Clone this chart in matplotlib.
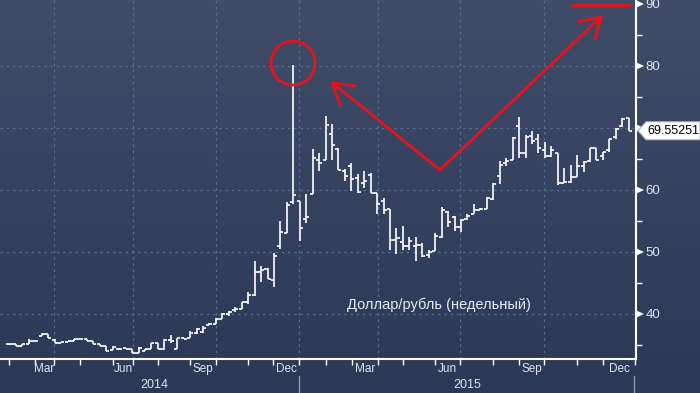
import matplotlib
matplotlib.use("Agg")
import matplotlib.pyplot as plt
import numpy as np
from matplotlib.collections import LineCollection
from matplotlib.lines import Line2D
from matplotlib.patches import Ellipse, Polygon

plt.rcParams["font.family"] = ["Liberation Sans", "DejaVu Sans"]

# weekly USD/RUB bars, Feb 2014 .. Dec 2015
opens = [35.1, 35.1, 34.8, 35.1, 35.7, 36.5, 36.7, 35.8, 35.3, 35.5,
         35.7, 35.9, 35.9, 35.6, 35.1, 34.8, 34.2, 34.35, 34.5, 34.35,
         33.75, 34.1, 34.35, 35.3, 34.3, 35.8, 34.4, 36.1, 36.2, 36.9,
         37.1, 38.3, 38.4, 39.2, 40.0, 40.65, 40.8, 41.9, 43.1, 46.7,
         47.2, 45.5, 50.9, 53.0, 58.0, 58.2, 55.3, 59.4, 64.8, 64.8,
         69.0, 66.6, 63.0, 63.9, 61.9, 61.2, 62.4, 59.5, 58.2, 56.9,
         51.9, 51.6, 50.9, 51.0, 51.1, 49.5, 50.1, 52.5, 56.5, 55.7,
         54.0, 55.3, 56.2, 56.8, 57.0, 58.5, 62.3, 64.4, 64.8, 70.3,
         66.0, 68.7, 68.2, 66.4, 65.5, 65.9, 61.2, 61.3, 62.1, 63.8,
         64.6, 66.8, 65.5, 66.4, 68.5, 70.3, 71.6]
highs = [35.2, 35.1, 35.1, 36.0, 35.7, 37.0, 36.7, 36.0, 35.5, 35.6,
         35.9, 36.0, 35.9, 35.6, 35.1, 34.8, 34.9, 34.5, 34.5, 34.35,
         34.6, 34.35, 35.4, 35.4, 35.9, 36.6, 36.2, 36.1, 37.2, 37.8,
         38.0, 38.5, 39.3, 40.1, 40.5, 41.1, 42.0, 43.6, 48.6, 47.7,
         47.5, 49.8, 55.0, 58.0, 80.2, 58.2, 59.4, 66.6, 66.0, 71.9,
         70.6, 66.7, 63.4, 64.4, 62.6, 63.0, 62.8, 59.5, 58.7, 57.0,
         53.8, 54.2, 52.5, 52.4, 51.4, 50.3, 53.1, 57.2, 56.6, 55.8,
         55.3, 56.1, 57.7, 57.1, 58.8, 61.1, 64.6, 65.2, 68.5, 71.7,
         68.8, 69.5, 69.1, 67.7, 67.1, 65.9, 63.5, 64.1, 65.6, 64.6,
         66.8, 66.8, 66.2, 68.3, 70.0, 71.6, 71.6]
lows = [35.0, 34.8, 34.8, 35.1, 35.6, 36.5, 36.2, 35.4, 35.3, 35.5,
        35.7, 35.9, 35.6, 35.1, 34.8, 34.1, 34.2, 34.3, 34.35, 33.7,
        33.7, 34.1, 34.35, 34.3, 34.2, 35.3, 34.35, 35.9, 36.1, 36.8,
        37.0, 38.2, 38.4, 39.2, 39.6, 40.4, 40.8, 41.6, 42.95, 45.1,
        45.6, 44.4, 50.5, 53.0, 57.8, 51.7, 54.6, 59.4, 63.1, 64.8,
        64.8, 63.3, 61.5, 59.9, 59.5, 60.3, 59.5, 56.2, 56.2, 50.4,
        49.7, 50.3, 50.3, 48.5, 49.2, 49.1, 50.1, 52.2, 54.0, 53.4,
        53.3, 55.2, 56.2, 56.7, 56.9, 58.4, 61.0, 63.8, 64.8, 65.1,
        65.1, 67.5, 65.9, 65.2, 65.4, 60.8, 61.2, 61.2, 62.1, 62.95,
        64.5, 64.8, 64.9, 66.2, 68.3, 70.2, 69.5]
closes = [35.1, 34.8, 35.1, 35.7, 35.6, 36.7, 36.2, 35.4, 35.5, 35.6,
          35.9, 35.9, 35.6, 35.1, 34.8, 34.1, 34.7, 34.35, 34.35, 33.75,
          34.5, 34.35, 35.3, 34.4, 35.8, 35.6, 36.1, 35.9, 37.0, 37.6,
          37.8, 38.4, 39.2, 40.0, 40.4, 40.8, 41.9, 43.1, 46.7, 47.1,
          45.7, 49.4, 53.2, 57.6, 59.2, 53.8, 55.6, 65.1, 64.3, 70.5,
          67.3, 63.3, 62.2, 61.7, 59.7, 61.4, 59.5, 57.8, 56.8, 51.9,
          52.2, 50.9, 51.8, 51.1, 49.4, 50.0, 52.6, 56.8, 54.9, 54.1,
          55.2, 55.8, 56.8, 57.0, 58.7, 61.0, 64.0, 64.7, 68.4, 65.9,
          68.6, 67.9, 66.8, 65.5, 66.4, 61.2, 61.3, 62.1, 63.8, 64.5,
          66.8, 64.8, 66.2, 68.3, 69.9, 71.5, 69.55251]

y_ticks = [40, 50, 60, 70, 80, 90]
y_labels = ["40", "50", "60", "", "80", "90"]   # 70 sits under the last-value tag
month_labels = ["Mar", "Jun", "Sep", "Dec", "Mar", "Jun", "Sep", "Dec"]
year_labels = ["2014", "2015"]
title_text = "Доллар/рубль (недельный)"

# layout (pixels of the 700x393 canvas)
W, H = 700, 393
AX_R, AX_B = 636, 359
X0, STEP = 9.5, 6.45          # first bar centre, px per week
Y40, PX_UNIT = 314, 6.2       # px of the 40 line, px per rouble
month_px = [9, 35, 54, 80, 113, 133, 158, 190, 216, 248, 273, 299,
            326, 352, 378, 403, 435, 460, 493, 519, 544, 577, 603, 635]
quarter_px = [54, 133, 216, 299, 378, 460, 544]
label_spans = [(35, 54), (113, 133), (190, 216), (273, 299),
               (352, 378), (435, 460), (519, 544), (603, 635)]
year_px = [154, 467]

BG_TOP = np.array([0x40, 0x4c, 0x68]) / 255
BG_BOT = np.array([0x2b, 0x38, 0x56]) / 255
GRID = "#56708f"
TXT = "#dfe5ee"
RED = "#e8121c"


def fx(x):
    return x / W


def fy(y):
    return 1 - y / H


def to_idx(px):
    return (px - X0) / STEP


def ax_frac(px, py):
    return px / AX_R, (AX_B - py) / AX_B


fig = plt.figure(figsize=(W / 100, H / 100), dpi=100)

bg = fig.add_axes([0, 0, 1, 1])
bg.set_axis_off()
t = np.linspace(0, 1, 256)[:, None, None]
grad = BG_TOP[None, None, :] * (1 - t) + BG_BOT[None, None, :] * t
bg.imshow(grad, aspect="auto", extent=[0, 1, 0, 1])
bg.set_xlim(0, 1)
bg.set_ylim(0, 1)

ax = fig.add_axes([0, fy(AX_B), fx(AX_R), AX_B / H])
ax.set_facecolor("none")
ax.set_xlim(to_idx(0), to_idx(AX_R))
ax.set_ylim(40 - (AX_B - Y40) / PX_UNIT, 40 + Y40 / PX_UNIT)

for v in y_ticks[:-1]:
    ax.axhline(v, color=GRID, lw=0.9, ls=(0, (2, 3)), zorder=1)
for p in quarter_px:
    ax.axvline(to_idx(p), color=GRID, lw=0.9, ls=(0, (2, 3)), zorder=1)

# OHLC bars
xs = np.arange(len(closes))
half = 0.47
segs = []
for x, o, h, l, c in zip(xs, opens, highs, lows, closes):
    segs.append([(x, l), (x, h)])
    segs.append([(x - half, o), (x, o)])
    segs.append([(x, c), (x + half, c)])
ax.add_collection(LineCollection(segs, colors="white", linewidths=1.2,
                                 capstyle="butt", zorder=3))

for side in ("top", "left"):
    ax.spines[side].set_visible(False)
for side in ("right", "bottom"):
    ax.spines[side].set_color("white")
    ax.spines[side].set_linewidth(1.5)

ax.set_xticks([])
ax.set_xticks([to_idx(p) for p in month_px], minor=True)
ax.tick_params(axis="x", which="minor", length=4, width=1, color="white",
               direction="out")

ax.yaxis.tick_right()
ax.set_yticks(y_ticks, y_labels)
ax.set_yticks([35, 45, 55, 65, 75, 85], minor=True)
ax.tick_params(axis="y", which="major", length=0, pad=7, labelsize=9.5,
               labelcolor=TXT)
ax.tick_params(axis="y", which="minor", length=4, width=1, color="white",
               direction="out")

for v in y_ticks:
    py = Y40 - (v - 40) * PX_UNIT
    fig.patches.append(Polygon(
        [(fx(636.5), fy(py - 3.5)), (fx(636.5), fy(py + 3.5)), (fx(644), fy(py))],
        closed=True, fc="white", ec="none", transform=fig.transFigure))

# last value tag
py_last = Y40 - (closes[-1] - 40) * PX_UNIT
fig.patches.append(Polygon(
    [(fx(638), fy(py_last)), (fx(646), fy(py_last - 9)), (fx(700), fy(py_last - 9)),
     (fx(700), fy(py_last + 9)), (fx(646), fy(py_last + 9))],
    closed=True, fc="white", ec="#aab3c3", lw=0.8, transform=fig.transFigure))
fig.text(fx(647), fy(py_last), f"{closes[-1]:.5f}", color="black",
         fontsize=9, ha="left", va="center")

# month / year labels
for lab, (a, b) in zip(month_labels, label_spans):
    fig.text(fx((a + b) / 2), fy(369), lab, color=TXT, fontsize=8.5,
             ha="center", va="center")
for lab, p in zip(year_labels, year_px):
    fig.text(fx(p), fy(385), lab, color=TXT, fontsize=9, ha="center",
             va="center")
for p in (299, 634):
    fig.lines.append(Line2D([fx(p), fx(p)], [fy(376), fy(393)], color="#8d97aa",
                            lw=1, transform=fig.transFigure))

ax.text(0.6895, 0.150, title_text, transform=ax.transAxes, color="#e6ebf2",
        fontsize=10.5, ha="center", va="center")

# red markup
cx, cy = ax_frac(293, 63)
ax.add_patch(Ellipse((cx, cy), 44 / AX_R, 44 / AX_B, transform=ax.transAxes,
                     fill=False, ec=RED, lw=2, zorder=5, clip_on=False))
vertex = ax_frac(440, 170)
for tip in (ax_frac(330, 81), ax_frac(603, 15)):
    ax.annotate("", xy=tip, xytext=vertex, xycoords="axes fraction",
                textcoords="axes fraction",
                arrowprops=dict(arrowstyle="->,head_length=1.0,head_width=0.6",
                                color=RED, lw=2, shrinkA=0, shrinkB=0,
                                mutation_scale=14))
ax.plot([ax_frac(572, 4.5)[0], ax_frac(629, 4.5)[0]],
        [ax_frac(572, 4.5)[1]] * 2, color=RED, lw=2,
        transform=ax.transAxes, clip_on=False, zorder=5)

fig.savefig("out.png", dpi=100)
